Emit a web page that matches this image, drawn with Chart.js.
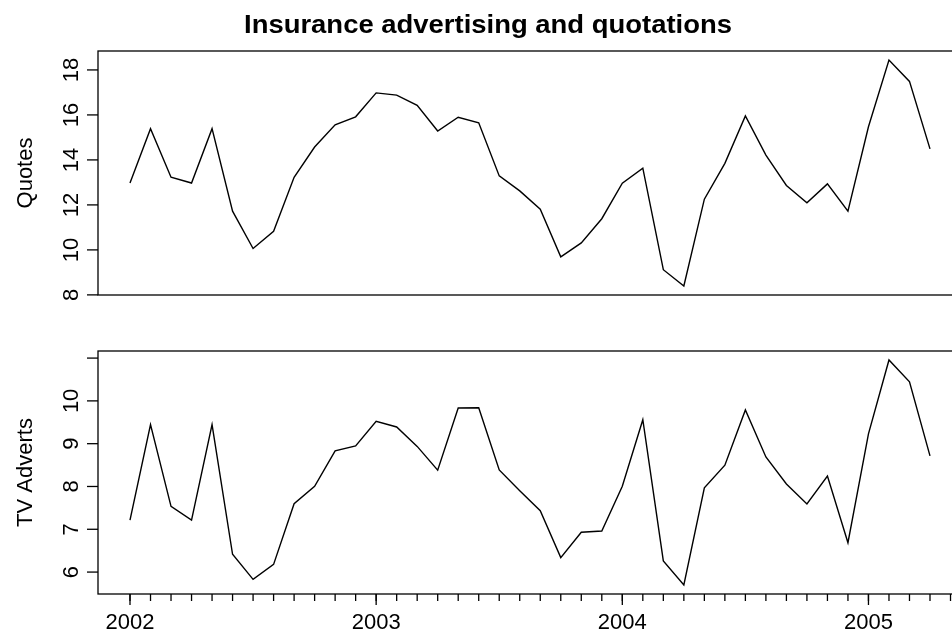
<!DOCTYPE html>
<html>
<head>
<meta charset="utf-8">
<script src="https://cdn.jsdelivr.net/npm/chart.js@4/dist/chart.umd.min.js"></script>
<style>
  html, body { margin: 0; padding: 0; background: #fff; }
  #wrap { position: relative; width: 952px; height: 634px; overflow: hidden; background: #fff; }
  #wrap canvas { position: absolute; left: 0; top: 0; }
</style>
</head>
<body>
<div id="wrap">
  <canvas id="top" width="962" height="634"></canvas>
  <canvas id="bot" width="962" height="634"></canvas>
</div>
<script>
// ---- data (monthly, Jan 2002 - Apr 2005) ----
const startYear = 2002;
const startMonth = 1;
const quotes = [12.9707, 15.3876, 13.2287, 12.9718, 15.3876, 11.7219, 10.0622, 10.8265, 13.2286, 14.5744,
                15.5567, 15.9166, 16.9794, 16.8782, 16.4265, 15.2854, 15.8957, 15.6485, 13.2884, 12.6223,
                11.8079, 9.6906, 10.3126, 11.3856, 12.9618, 13.6318, 9.1186, 8.3966, 12.2549, 13.8463,
                15.9587, 14.2159, 12.8659, 12.0903, 12.9333, 11.7217, 15.4727, 18.4398, 17.4896, 14.4893];
const tvAdverts = [7.2124, 9.4443, 7.5342, 7.2125, 9.4443, 6.4152, 5.8307, 6.1800, 7.5971, 8.0054,
                   8.8311, 8.9487, 9.5250, 9.3902, 8.9365, 8.3809, 9.8322, 9.8396, 8.3873, 7.9019,
                   7.4355, 6.3387, 6.9307, 6.9602, 8.0042, 9.5609, 6.2627, 5.6980, 7.9678, 8.4979,
                   9.7888, 8.6901, 8.0572, 7.5914, 8.2452, 6.6860, 9.2280, 10.9553, 10.4448, 8.7165];
const quotesTicks = [8, 10, 12, 14, 16, 18];
const quotesTickLabels = ['8', '10', '12', '14', '16', '18'];
const tvTicks = [6, 7, 8, 9, 10, 11];
const tvTickLabels = ['6', '7', '8', '9', '10', ''];
const yearTicks = [2002, 2003, 2004, 2005];
const yearTickLabels = ['2002', '2003', '2004', '2005'];
const titleText = 'Insurance advertising and quotations';
const quotesLabel = 'Quotes';
const tvLabel = 'TV Adverts';

// ---- helpers ----
const FONT = '"Liberation Sans", Arial, Helvetica, sans-serif';
const toPoints = arr => arr.map((v, i) => ({ x: startYear + (startMonth - 1 + i) / 12, y: v }));
const xr = (() => { const a = startYear + (startMonth - 1) / 12, b = a + (quotes.length - 1) / 12, d = (b - a) * 0.04; return [a - d, b + d]; })();
const yr = arr => { const mn = Math.min(...arr), mx = Math.max(...arr), d = (mx - mn) * 0.04; return [mn - d, mx + d]; };

function makePanel(canvasId, values, ticks, tickLabels, axisLabel, padTop, padBottom, xHeight, isBottom) {
  const [ymin, ymax] = yr(values);
  const panelPlugin = {
    id: 'panel_' + canvasId,
    afterDraw(chart) {
      const ctx = chart.ctx, a = chart.chartArea, ys = chart.scales.y, xs = chart.scales.x;
      ctx.save();
      ctx.strokeStyle = '#000';
      ctx.fillStyle = '#000';
      ctx.lineWidth = 1.3;
      ctx.strokeRect(a.left, a.top, a.right - a.left, a.bottom - a.top);
      // y ticks + labels
      ctx.font = '22px ' + FONT;
      ticks.forEach((v, i) => {
        const y = ys.getPixelForValue(v);
        ctx.beginPath(); ctx.moveTo(a.left - 11, y); ctx.lineTo(a.left, y); ctx.stroke();
        if (tickLabels[i]) {
          ctx.save(); ctx.translate(a.left - 20, y); ctx.rotate(-Math.PI / 2);
          ctx.textAlign = 'center'; ctx.textBaseline = 'alphabetic';
          ctx.fillText(tickLabels[i], 0, 0); ctx.restore();
        }
      });
      // axis label
      ctx.save(); ctx.translate(32, (a.top + a.bottom) / 2); ctx.rotate(-Math.PI / 2);
      ctx.textAlign = 'center'; ctx.textBaseline = 'alphabetic';
      ctx.fillText(axisLabel, 0, 0); ctx.restore();
      if (isBottom) {
        // minor monthly ticks
        for (let k = 0; ; k++) {
          const xv = startYear + k / 12;
          if (xv > xs.max) break;
          const x = xs.getPixelForValue(xv);
          ctx.beginPath(); ctx.moveTo(x, a.bottom); ctx.lineTo(x, a.bottom + 7); ctx.stroke();
        }
        ctx.textAlign = 'center'; ctx.textBaseline = 'alphabetic';
        yearTicks.forEach((v, i) => {
          const x = xs.getPixelForValue(v);
          ctx.beginPath(); ctx.moveTo(x, a.bottom); ctx.lineTo(x, a.bottom + 11); ctx.stroke();
          ctx.fillText(yearTickLabels[i], x, a.bottom + 35);
        });
      } else {
        // main title
        ctx.font = 'bold 25px ' + FONT;
        const w = ctx.measureText(titleText).width;
        ctx.save(); ctx.translate(488, 33); ctx.scale(488 / w, 1);
        ctx.textAlign = 'center'; ctx.textBaseline = 'alphabetic';
        ctx.fillText(titleText, 0, 0); ctx.restore();
      }
      ctx.restore();
    }
  };
  return new Chart(document.getElementById(canvasId), {
    type: 'line',
    data: { datasets: [{ data: toPoints(values), borderColor: '#000', borderWidth: 1.4,
                         pointRadius: 0, tension: 0, fill: false }] },
    options: {
      responsive: false, animation: false, devicePixelRatio: 1,
      layout: { padding: { top: padTop, bottom: padBottom, left: 0, right: 0 } },
      plugins: { legend: { display: false }, tooltip: { enabled: false }, title: { display: false } },
      scales: {
        x: { type: 'linear', min: xr[0], max: xr[1],
             ticks: { display: false }, grid: { display: false }, border: { display: false },
             afterFit: s => { s.height = xHeight; } },
        y: { type: 'linear', min: ymin, max: ymax,
             ticks: { display: false }, grid: { display: false }, border: { display: false },
             afterFit: s => { s.width = 98; } }
      }
    },
    plugins: [panelPlugin]
  });
}

makePanel('top', quotes, quotesTicks, quotesTickLabels, quotesLabel, 51, 339, 0, false);
makePanel('bot', tvAdverts, tvTicks, tvTickLabels, tvLabel, 351, 0, 40, true);
</script>
</body>
</html>
